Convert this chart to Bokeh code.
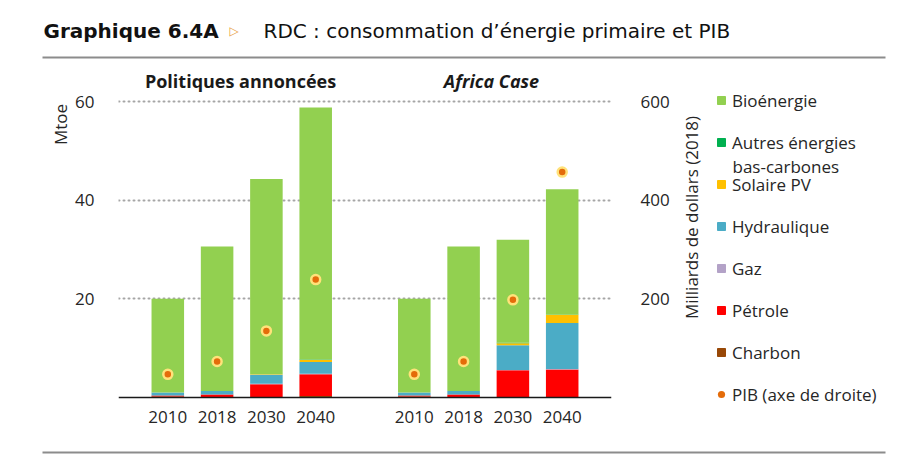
import math
from bokeh.plotting import figure
from bokeh.layouts import column, row
from bokeh.core.properties import value
from bokeh.models import (FactorRange, Range1d, LinearAxis, CategoricalAxis, FixedTicker,
                          Legend, LegendItem, Label, Span, ColumnDataSource)
from bokeh.embed import file_html
from bokeh.resources import INLINE

# ---------------- data ----------------
scenarios = ["Politiques annoncées", "Africa Case"]
years = ["2010", "2018", "2030", "2040"]

charbon     = [0.2, 0.1, 0.1, 0.3, 0.2, 0.1, 0.0, 0.0]
petrole     = [0.2, 0.5, 2.6, 4.4, 0.2, 0.5, 5.5, 5.7]
gaz         = [0.0, 0.0, 0.1, 0.1, 0.0, 0.0, 0.1, 0.1]
hydraulique = [0.6, 0.7, 1.8, 2.4, 0.6, 0.7, 5.0, 9.3]
solaire     = [0.0, 0.0, 0.1, 0.4, 0.0, 0.0, 0.4, 1.6]
autres      = [0.0, 0.0, 0.0, 0.1, 0.0, 0.0, 0.1, 0.1]
bio         = [19.0, 29.3, 39.6, 51.1, 19.0, 29.3, 20.9, 25.4]
pib         = [47, 73, 135, 239, 47, 73, 198, 457]

left_ticks = [20, 40, 60]
right_ticks = [200, 400, 600]

series_names = ["Charbon", "Pétrole", "Gaz", "Hydraulique", "Solaire PV",
                "Autres énergies", "Bioénergie"]
series_keys = ["charbon", "petrole", "gaz", "hydraulique", "solaire", "autres", "bio"]
colors = ["#984807", "#FF0000", "#B3A2C7", "#4BACC6", "#FFC000", "#00B050", "#92D050"]
gdp_label = "PIB (axe de droite)"
dot_fill, dot_ring = "#E46C0A", "#FFE27A"

factors = [(s, y) for s in scenarios for y in years]
source = ColumnDataSource(dict(x=factors, charbon=charbon, petrole=petrole, gaz=gaz,
                               hydraulique=hydraulique, solaire=solaire, autres=autres,
                               bio=bio, pib=pib))

# ---------------- layout constants (canvas pixels) ----------------
W, H = 917, 471
HEAD_H, FOOT_H = 62, 21
MID_H = H - HEAD_H - FOOT_H          # 388
L_W, B_W = 72, 245
A_W = W - L_W - B_W                  # 600
FL, FR, FT = 116, 613, 62            # main frame edges on the canvas
ZERO_Y = 397                         # canvas y of the value 0 (baseline)
FB = 410                             # frame bottom (a little below the baseline)
PX_PER_MTOE = 4.933
y_start = -(FB - ZERO_Y) / PX_PER_MTOE
y_end = (ZERO_Y - FT) / PX_PER_MTOE

FONT = "Open Sans"
TITLE_FONT = "DejaVu Sans"
TXT = "#262626"
NAN = float("nan")


def strip(width, height, x0, x1, y_top, y_bot):
    f = figure(width=width, height=height, output_backend="svg", toolbar_location=None,
               x_range=Range1d(x0, x1), y_range=Range1d(y_bot, y_top),
               x_axis_location=None, y_axis_location=None, title=None,
               min_border=0, min_border_left=0, min_border_right=0,
               min_border_top=0, min_border_bottom=0)
    f.outline_line_color = None
    f.grid.visible = False
    f.background_fill_color = "white"
    f.border_fill_color = "white"
    return f


# ---------------- header ----------------
head = strip(W, HEAD_H, 0, W, 0, HEAD_H)
head.text(x=[43], y=[30], text=["Graphique 6.4A"], text_font=value(TITLE_FONT),
          text_font_size="20px", text_font_style="bold", text_color="#111111",
          text_baseline="middle")
head.text(x=[229], y=[30], text=["▷"], text_font=value(TITLE_FONT), text_font_size="12px",
          text_font_style="bold", text_color="#E8A040", text_baseline="middle")
head.text(x=[263], y=[30], text=["RDC : consommation d’énergie primaire et PIB"],
          text_font=value(TITLE_FONT), text_font_size="20px", text_color="#111111",
          text_baseline="middle")
head.segment(x0=[42], y0=[57], x1=[885], y1=[57], line_color="#8C8C8C", line_width=2)

# ---------------- left strip (frame aligned with main frame: FT..FB) ----------------
left = strip(L_W, MID_H, 0, L_W, FT, FB)
left.text(x=[60], y=[124], text=["Mtoe"], angle=math.pi / 2, text_font=value(FONT),
          text_font_size="17px", text_color=TXT, text_align="center",
          text_baseline="middle")

# ---------------- main chart ----------------
p = figure(width=A_W, height=MID_H, output_backend="svg", toolbar_location=None,
           title=None,
           x_range=FactorRange(*factors, range_padding=1/9, group_padding=1.0),
           y_range=Range1d(y_start, y_end), x_axis_location=None,
           min_border_left=FL - L_W, min_border_right=L_W + A_W - FR,
           min_border_top=FT - HEAD_H, min_border_bottom=HEAD_H + MID_H - FB)
p.outline_line_color = None
p.background_fill_color = "white"
p.border_fill_color = "white"
p.extra_y_ranges = {"gdp": Range1d(y_start * 10, y_end * 10)}

ya = p.yaxis[0]
ya.ticker = FixedTicker(ticks=left_ticks)
ya.axis_line_color = None
ya.major_tick_line_color = None
ya.minor_tick_line_color = None
ya.major_label_text_font = FONT
ya.major_label_text_font_size = "17px"
ya.major_label_text_color = TXT
ya.major_label_standoff = 18

for g in p.grid:
    if g.dimension == 0:
        g.visible = False
p.ygrid.grid_line_color = "#A6A6A6"
p.ygrid.grid_line_dash = "1 4"
p.ygrid.grid_line_width = 2
p.ygrid.grid_line_cap = "round"

ra = LinearAxis(y_range_name="gdp", ticker=FixedTicker(ticks=right_ticks),
                axis_line_color=None, major_tick_line_color=None,
                minor_tick_line_color=None, major_label_text_font=FONT,
                major_label_text_font_size="17px", major_label_text_color=TXT,
                major_label_standoff=23)
p.add_layout(ra, "right")

ca = CategoricalAxis(axis_line_color=None, major_tick_line_color=None,
                     major_tick_out=0, major_tick_in=0,
                     minor_tick_line_color=None, separator_line_color=None,
                     major_label_text_font=FONT, major_label_text_font_size="17px",
                     major_label_text_color=TXT, major_label_standoff=0,
                     group_text_font_size="0px", group_label_orientation="horizontal")
p.add_layout(ca, "below")

# baseline of the category axis at value 0
p.add_layout(Span(location=0, dimension="width", line_color="#1a1a1a", line_width=1.4))

bars = p.vbar_stack(series_keys, x="x", width=0.66, color=colors, line_color=None,
                    source=source)
p.scatter(x="x", y="pib", y_range_name="gdp", source=source, size=9,
          fill_color=dot_fill, line_color=dot_ring, line_width=2.5)


def lab(text, cx, cy, **kw):
    opts = dict(text_font=FONT, text_font_size="18px", text_color="#1a1a1a",
                text_baseline="middle", text_align="center", text_font_style="bold")
    opts.update(kw)
    return Label(x=cx - FL, y=FB - cy, x_units="screen", y_units="screen", text=text, **opts)


p.add_layout(lab(scenarios[0], 238, 80))
p.add_layout(lab(scenarios[1], 489, 80, text_font_style="bold italic"))

# ---------------- right strip: axis title + legend (frame aligned FT..FB) ----------------
rs = strip(B_W, MID_H, L_W + A_W, W, FT, FB)
rs.text(x=[691], y=[217], text=["Milliards de dollars (2018)"], angle=math.pi / 2,
        text_font=value(FONT), text_font_size="17px", text_color=TXT,
        text_align="center", text_baseline="middle")
rs.text(x=[732], y=[166], text=["bas-carbones"], text_font=value(FONT),
        text_font_size="17px", text_color=TXT, text_baseline="middle")

# legend proxies (no visible mark: NaN position)
swatches = [rs.vbar(x=[NAN], top=[NAN], width=1, color=c) for c in colors]
dot = rs.scatter(x=[NAN], y=[NAN], size=9, fill_color=dot_fill, line_color=None)
items = [LegendItem(label=series_names[i], renderers=[swatches[i]]) for i in range(6, -1, -1)]

LEG_X0 = L_W + A_W
ITEM_H, GAP = 24, 18
leg_h = len(items) * ITEM_H + (len(items) - 1) * GAP
legend = Legend(items=items,
                location=(716 - LEG_X0, FB - 89 - leg_h + 1),
                margin=0, padding=0, glyph_width=10, glyph_height=10,
                label_height=ITEM_H, spacing=GAP, label_standoff=6,
                label_text_font=FONT, label_text_font_size="17px",
                label_text_color=TXT, border_line_color=None, background_fill_alpha=0)
rs.add_layout(legend)

legend2 = Legend(items=[LegendItem(label=gdp_label, renderers=[dot])],
                 location=(712 - LEG_X0, FB - (395 + ITEM_H // 2) + 1),
                 margin=0, padding=0, glyph_width=18, glyph_height=18,
                 label_height=ITEM_H, spacing=0, label_standoff=2,
                 label_text_font=FONT, label_text_font_size="17px",
                 label_text_color=TXT, border_line_color=None, background_fill_alpha=0)
rs.add_layout(legend2)

# ---------------- footer ----------------
foot = strip(W, FOOT_H, 0, W, HEAD_H + MID_H, H)
foot.segment(x0=[42], y0=[452], x1=[885], y1=[452], line_color="#8C8C8C", line_width=2)

layout = column(head, row(left, p, rs), foot)
open("out.html", "w").write(file_html(layout, INLINE))
